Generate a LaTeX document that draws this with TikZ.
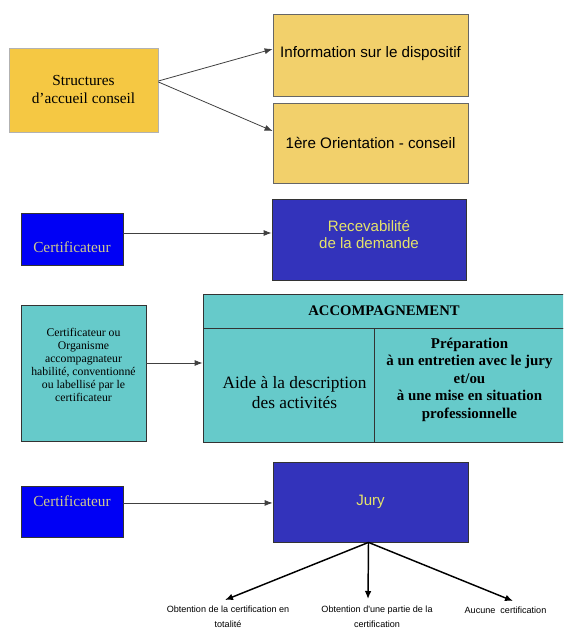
\documentclass[tikz,border=0pt]{standalone}
\usepackage{fontspec}
\setmainfont{Liberation Serif}
\newfontfamily\arialfont{Liberation Sans}
\usetikzlibrary{arrows.meta}
\definecolor{structyellow}{HTML}{F5C843}
\definecolor{infoyellow}{HTML}{F2D06B}
\definecolor{certblue}{HTML}{0000F5}
\definecolor{juryblue}{HTML}{3333BB}
\definecolor{accteal}{HTML}{66CACA}
\definecolor{jurytext}{HTML}{E6E46A}
\definecolor{certtext}{HTML}{CFC98E}
\newcommand{\px}{0.75pt}
\tikzset{
  box/.style={draw=black!80, line width=0.6pt, inner sep=0pt, align=center},
  boxw/.style={minimum width=#1*\px},
  boxh/.style={minimum height=#1*\px},
  arr/.style={-{Latex[length=6pt,width=4.5pt]}, draw=black!75, line width=0.6pt},
  fan/.style={-{Latex[length=6pt,width=5pt]}, line width=1.1pt},
  outcome/.style={font=\arialfont\fontsize{6.8}{11}\selectfont, align=center, inner sep=0pt}
}
\begin{document}
\begin{tikzpicture}[x=\px,y=-\px]
\useasboundingbox (0,0) rectangle (563,630);
\clip (0,0) rectangle (563,630);
% accueil
\node[box, draw=gray!60, fill=structyellow, boxw=149, boxh=84,
  font=\fontsize{11.5}{13.5}\selectfont] (struct) at (83.5,90) {Structures\\d’accueil conseil};
\node[box, draw=black!60, fill=infoyellow, boxw=195, boxh=82,
  font=\arialfont\fontsize{11.4}{13.5}\selectfont] (info) at (370.5,55) {\raisebox{-1.75pt}[0pt][0pt]{Information sur le dispositif}};
\node[box, draw=black!60, fill=infoyellow, boxw=195, boxh=80,
  font=\arialfont\fontsize{11.4}{13.5}\selectfont] (orient) at (370.5,143) {1ère Orientation - conseil};
\draw[arr] ([yshift=6.75pt]struct.east) -- ([yshift=4.5pt]info.west);
\draw[arr] ([yshift=6pt]struct.east) -- ([yshift=9pt]orient.west);
% recevabilite
\node[box, fill=certblue, boxw=102, boxh=52, text=certtext,
  font=\fontsize{11.5}{13.5}\selectfont] (cert1) at (72,239) {\raisebox{-10pt}[0pt][0pt]{Certificateur}};
\node[box, fill=juryblue, boxw=194, boxh=81, text=jurytext,
  font=\arialfont\fontsize{11.3}{12.75}\selectfont] (recev) at (369,239.5) {Recevabilité\\de la demande\\[-5.25pt]};
\coordinate (c1out) at ([yshift=4.5pt]cert1.east);
\draw[arr] (c1out) -- (c1out -| recev.west);
% accompagnement
\node[box, fill=accteal, boxw=125, boxh=136,
  font=\fontsize{8.8}{9.75}\selectfont] (org) at (83.5,373)
  {Certificateur ou\\Organisme\\accompagnateur\\habilité, conventionné\\ou labellisé par le\\certificateur\\[3pt]};
\node[box, fill=accteal, boxw=362, boxh=34,
  font=\bfseries\fontsize{11}{13}\selectfont] (head) at (384,311) {ACCOMPAGNEMENT};
\node[box, fill=accteal, boxw=171, boxh=114,
  font=\fontsize{13}{15}\selectfont] (aide) at (288.5,385) {\\[5.5pt]\hspace*{9pt}Aide à la description\\\hspace*{9pt}des activités};
\node[box, fill=accteal, boxw=191, boxh=114,
  font=\bfseries\fontsize{11.2}{13.1}\selectfont] (prep) at (469.5,385)
  {Préparation\\à un entretien avec le jury\\et/ou\\à une mise en situation\\professionnelle\\[-3pt]};
\coordinate (orgout) at ([yshift=7.5pt]org.east);
\draw[arr] (orgout) -- (orgout -| aide.west);
% jury
\node[box, fill=certblue, boxw=102, boxh=51, text=certtext,
  font=\fontsize{11.5}{13.5}\selectfont] (cert2) at (72,511.5) {\raisebox{3.5pt}[0pt][0pt]{Certificateur}};
\node[box, fill=juryblue, boxw=195, boxh=80, text=jurytext,
  font=\arialfont\fontsize{11.3}{12.75}\selectfont] (jury) at (370.5,502) {Jury};
\coordinate (c2out) at ([yshift=6.4pt]cert2.east);
\draw[arr] (c2out) -- (c2out -| jury.west);
% resultats
\coordinate (endA) at (225,600);
\coordinate (endB) at (368,599);
\coordinate (endC) at (513,601);
\draw[fan] ([xshift=-1.5pt]jury.south) -- (endA);
\draw[fan] ([xshift=-1.5pt]jury.south) -- (endB);
\draw[fan] ([xshift=-1.5pt]jury.south) -- (endC);
\node[outcome] (outA) at (228,617) {Obtention de la certification en\\totalité};
\node[outcome] (outB) at (377,617) {Obtention d'une partie de la\\certification};
\node[outcome] (outC) at (505.5,610) {Aucune\ \ certification};
\end{tikzpicture}
\end{document}
